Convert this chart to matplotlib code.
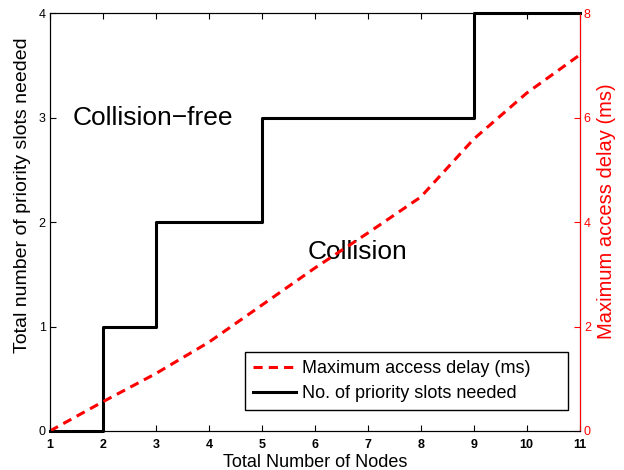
"""Priority slots needed and maximum access delay versus number of nodes."""

import matplotlib
matplotlib.use('Agg')
import matplotlib.pyplot as plt

plt.rcParams['font.family'] = ['Liberation Sans', 'DejaVu Sans']

nodes = [1, 2, 3, 4, 5, 6, 7, 8, 9, 10, 11]
slots_needed = [0, 1, 2, 2, 3, 3, 3, 3, 4, 4, 4]
max_delay_ms = [0.0, 0.56, 1.10, 1.70, 2.41, 3.12, 3.79, 4.48, 5.59, 6.47, 7.20]

fig = plt.figure(figsize=(6.24, 4.70), dpi=100)
ax = fig.add_axes([0.080, 0.083, 0.849, 0.889])
ax2 = ax.twinx()

l_slots, = ax.plot(nodes, slots_needed, color='black', lw=2.2,
                   drawstyle='steps-post', label='No. of priority slots needed',
                   clip_on=False, zorder=3)
l_delay, = ax2.plot(nodes, max_delay_ms, color='red', lw=2.2, ls=(0, (3.0, 2.0)),
                    label='Maximum access delay (ms)')

ax.set_xlim(1, 11)
ax.set_ylim(0, 4)
ax2.set_ylim(0, 8)
ax.set_xticks(nodes)
ax.set_yticks([0, 1, 2, 3, 4])
ax2.set_yticks([0, 2, 4, 6, 8])

ax.tick_params(axis='x', direction='in', top=True, length=4, labelsize=9, pad=6)
for lbl in ax.get_xticklabels():
    lbl.set_fontweight('bold')
ax.tick_params(axis='y', direction='in', right=False, length=4, labelsize=9, pad=3)
ax2.tick_params(axis='y', direction='in', length=4, labelsize=9, pad=3,
                colors='red')
ax2.spines['right'].set_color('red')

ax.set_xlabel('Total Number of Nodes', fontsize=13)
ax.xaxis.set_label_coords(0.5, -0.054)
ax.set_ylabel('Total number of priority slots needed', fontsize=14)
ax.yaxis.set_label_coords(-0.036, 0.565)
ax2.set_ylabel('Maximum access delay (ms)', fontsize=14.5, color='red')
ax2.yaxis.set_label_coords(1.032, 0.525)

ax.text(1.43, 3.0, 'Collision\u2212free', fontsize=19, va='center', ha='left')
ax.text(5.87, 1.71, 'Collision', fontsize=19, va='center', ha='left')

leg = ax2.legend(handles=[l_delay, l_slots], loc='lower left',
                 bbox_to_anchor=(0.368, 0.05, 0.609, 0.14), mode='expand',
                 borderaxespad=0, fontsize=13, fancybox=False, framealpha=1,
                 edgecolor='black', handlelength=2.4, borderpad=0.45,
                 labelspacing=0.45, handletextpad=0.3)
leg.get_frame().set_linewidth(1)

fig.savefig('out.png', dpi=100)
